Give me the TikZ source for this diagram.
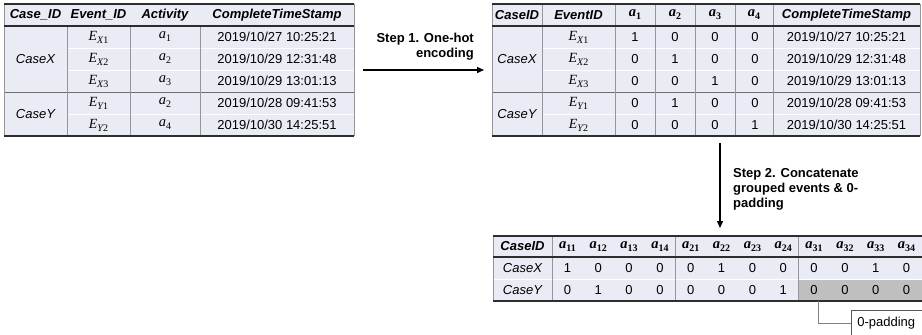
\documentclass[tikz,border=0pt]{standalone}
\usepackage{fontspec}
\setmainfont{Liberation Sans}
\newfontfamily\serifff{Liberation Serif}
\usetikzlibrary{arrows.meta}
\definecolor{cellbg}{RGB}{233,236,244}
\definecolor{darkline}{RGB}{45,45,45}
\definecolor{sepline}{RGB}{150,150,150}
\definecolor{caseline}{RGB}{110,110,110}
\definecolor{padfill}{RGB}{191,191,191}
\definecolor{connline}{RGB}{128,128,128}
% math-like variables (Cambria Math look)
\newcommand{\evar}[2]{{\fontsize{14}{15}\selectfont\serifff\itshape E}\raisebox{-3pt}{\fontsize{10}{11}\selectfont\serifff\itshape #1\upshape #2}}
\newcommand{\avar}[1]{{\fontsize{14.5}{15}\selectfont\serifff\itshape a}\raisebox{-3pt}{\fontsize{10}{11}\selectfont\serifff #1}}
\newcommand{\abvar}[1]{{\fontsize{14.5}{15}\selectfont\serifff\bfseries\itshape a}\raisebox{-3pt}{\fontsize{10}{11}\selectfont\serifff\bfseries #1}}
\tikzset{
  txt/.style={inner sep=0pt, font=\fontsize{13}{15}\selectfont},
  hd/.style={inner sep=0pt, font=\fontsize{13}{15}\selectfont\bfseries\itshape},
  itx/.style={inner sep=0pt, font=\fontsize{13}{15}\selectfont\itshape},
  outerline/.style={draw=darkline, line width=1.4pt},
  headline/.style={draw=darkline, line width=1.1pt},
  colsep/.style={draw=sepline, line width=0.7pt},
  rowsep/.style={draw=white, line width=1pt},
  casesep/.style={draw=caseline, line width=0.9pt},
  steparrow/.style={-{Triangle[length=7pt,width=6pt]}, line width=1.4pt, draw=black},
  steplabel/.style={inner sep=0pt, font=\fontsize{13}{15}\selectfont\bfseries},
  conn/.style={draw=connline, line width=0.8pt},
  padbox/.style={draw=darkline!80, line width=0.7pt, fill=white, anchor=north west,
    minimum height=26pt, text width=68pt, inner xsep=6pt, inner ysep=0pt, align=left,
    font=\fontsize{13}{15}\selectfont}
}
\begin{document}
\begin{tikzpicture}[x=1pt,y=-1pt]
\useasboundingbox (0,0) rectangle (922,335);
\clip (0,0) rectangle (922,335);

% ---------------- Table 1 ----------------
\fill[cellbg] (4,4) rectangle (354,136);
\foreach \yy in {48,70,114} \draw[rowsep] (67,\yy) -- (354,\yy);
\draw[casesep] (4,92) -- (354,92);
\foreach \xx in {67,130,200} \draw[colsep] (\xx,26) -- (\xx,136);
\draw[colsep] (4,4) -- (4,136);
\draw[colsep] (354,4) -- (354,136);
\draw[outerline] (4,4) -- (354,4);
\draw[headline] (4,26) -- (354,26);
\draw[outerline] (4,136) -- (354,136);

\node[hd] (t1h1) at (35.5,15) {Case\_ID};
\node[hd] (t1h2) at (98.5,15) {Event\_ID};
\node[hd] (t1h3) at (165,15) {Activity};
\node[hd] (t1h4) at (277,15) {CompleteTimeStamp};
\node[itx] (t1cx) at (35.5,59) {CaseX};
\node[itx] (t1cy) at (35.5,114) {CaseY};
\node[txt] (t1e1) at (98.5,37) {\evar{X}{1}};
\node[txt] (t1e2) at (98.5,59) {\evar{X}{2}};
\node[txt] (t1e3) at (98.5,81) {\evar{X}{3}};
\node[txt] (t1e4) at (98.5,103) {\evar{Y}{1}};
\node[txt] (t1e5) at (98.5,125) {\evar{Y}{2}};
\node[txt] (t1a1) at (165,37) {\avar{1}};
\node[txt] (t1a2) at (165,59) {\avar{2}};
\node[txt] (t1a3) at (165,81) {\avar{3}};
\node[txt] (t1a4) at (165,103) {\avar{2}};
\node[txt] (t1a5) at (165,125) {\avar{4}};
\node[txt] (t1t1) at (277,37) {2019/10/27 10:25:21};
\node[txt] (t1t2) at (277,59) {2019/10/29 12:31:48};
\node[txt] (t1t3) at (277,81) {2019/10/29 13:01:13};
\node[txt] (t1t4) at (277,103) {2019/10/28 09:41:53};
\node[txt] (t1t5) at (277,125) {2019/10/30 14:25:51};

% ---------------- Step 1 arrow ----------------
\coordinate (s1a) at (363,70);
\coordinate (s1b) at (484,70);
\draw[steparrow] (s1a) -- (s1b);
\node[steplabel, align=right, anchor=east] (s1lab) at (474,47) {Step 1. One-hot\\encoding};

% ---------------- Table 2 ----------------
\fill[cellbg] (492,4) rectangle (920,136);
\foreach \yy in {48,70,114} \draw[rowsep] (542,\yy) -- (920,\yy);
\draw[casesep] (492,92) -- (920,92);
\foreach \xx in {542,615,655,695,735,773} \draw[colsep] (\xx,4) -- (\xx,136);
\draw[colsep] (492,4) -- (492,136);
\draw[colsep] (920,4) -- (920,136);
\draw[outerline] (492,4) -- (920,4);
\draw[headline] (492,26) -- (920,26);
\draw[outerline] (492,136) -- (920,136);

\node[hd] (t2h1) at (517,15) {CaseID};
\node[hd] (t2h2) at (578.5,15) {EventID};
\node[txt] (t2h3) at (635,15) {\abvar{1}};
\node[txt] (t2h4) at (675,15) {\abvar{2}};
\node[txt] (t2h5) at (715,15) {\abvar{3}};
\node[txt] (t2h6) at (754,15) {\abvar{4}};
\node[hd] (t2h7) at (846.5,15) {CompleteTimeStamp};
\node[itx] (t2cx) at (517,59) {CaseX};
\node[itx] (t2cy) at (517,114) {CaseY};
\node[txt] (t2e1) at (578.5,37) {\evar{X}{1}};
\node[txt] (t2e2) at (578.5,59) {\evar{X}{2}};
\node[txt] (t2e3) at (578.5,81) {\evar{X}{3}};
\node[txt] (t2e4) at (578.5,103) {\evar{Y}{1}};
\node[txt] (t2e5) at (578.5,125) {\evar{Y}{2}};
\foreach \vals [count=\r] in {{1,0,0,0},{0,1,0,0},{0,0,1,0},{0,1,0,0},{0,0,0,1}} {
  \foreach \v [count=\c] in \vals {
    \node[txt] (t2v-\r-\c) at ({595+40*\c},{15+22*\r}) {\v};
  }
}
\node[txt] (t2t1) at (846.5,37) {2019/10/27 10:25:21};
\node[txt] (t2t2) at (846.5,59) {2019/10/29 12:31:48};
\node[txt] (t2t3) at (846.5,81) {2019/10/29 13:01:13};
\node[txt] (t2t4) at (846.5,103) {2019/10/28 09:41:53};
\node[txt] (t2t5) at (846.5,125) {2019/10/30 14:25:51};

% ---------------- Step 2 arrow ----------------
\coordinate (s2a) at (720,143);
\coordinate (s2b) at (720,228);
\draw[steparrow] (s2a) -- (s2b);
\node[steplabel, align=left, anchor=west] (s2lab) at (733,189) {Step 2. Concatenate\\grouped events \& 0-\\padding};

% ---------------- Table 3 ----------------
\fill[cellbg] (493,236) rectangle (922,301);
\fill[padfill] (798.67,279) rectangle (922,301);
\draw[rowsep] (493,279) -- (922,279);
\foreach \xx in {552,675.33,798.67} \draw[colsep] (\xx,236) -- (\xx,301);
\draw[colsep] (493,236) -- (493,301);
\draw[outerline] (493,236) -- (922,236);
\draw[headline] (493,257) -- (922,257);
\draw[outerline] (493,301) -- (922,301);

\node[hd] (t3h0) at (522.5,246.5) {CaseID};
\foreach \g in {1,2,3} {
  \foreach \k in {1,2,3,4} {
    \node[txt] (t3h-\g-\k) at ({552+30.8333*(4*(\g-1)+\k-0.5)},247) {\abvar{\g\k}};
  }
}
\node[itx] (t3cx) at (522.5,268) {CaseX};
\node[itx] (t3cy) at (522.5,290) {CaseY};
\foreach \v [count=\c] in {1,0,0,0,0,1,0,0,0,0,1,0} {
  \node[txt] (t3x-\c) at ({552+30.8333*(\c-0.5)},268) {\v};
}
\foreach \v [count=\c] in {0,1,0,0,0,0,0,1,0,0,0,0} {
  \node[txt] (t3y-\c) at ({552+30.8333*(\c-0.5)},290) {\v};
}

% ---------------- 0-padding callout ----------------
\node[padbox] (pad) at (851,310) {0-padding};
\coordinate (padsrc) at (818,301);
\draw[conn] (padsrc) |- (pad.west);
\end{tikzpicture}
\end{document}
